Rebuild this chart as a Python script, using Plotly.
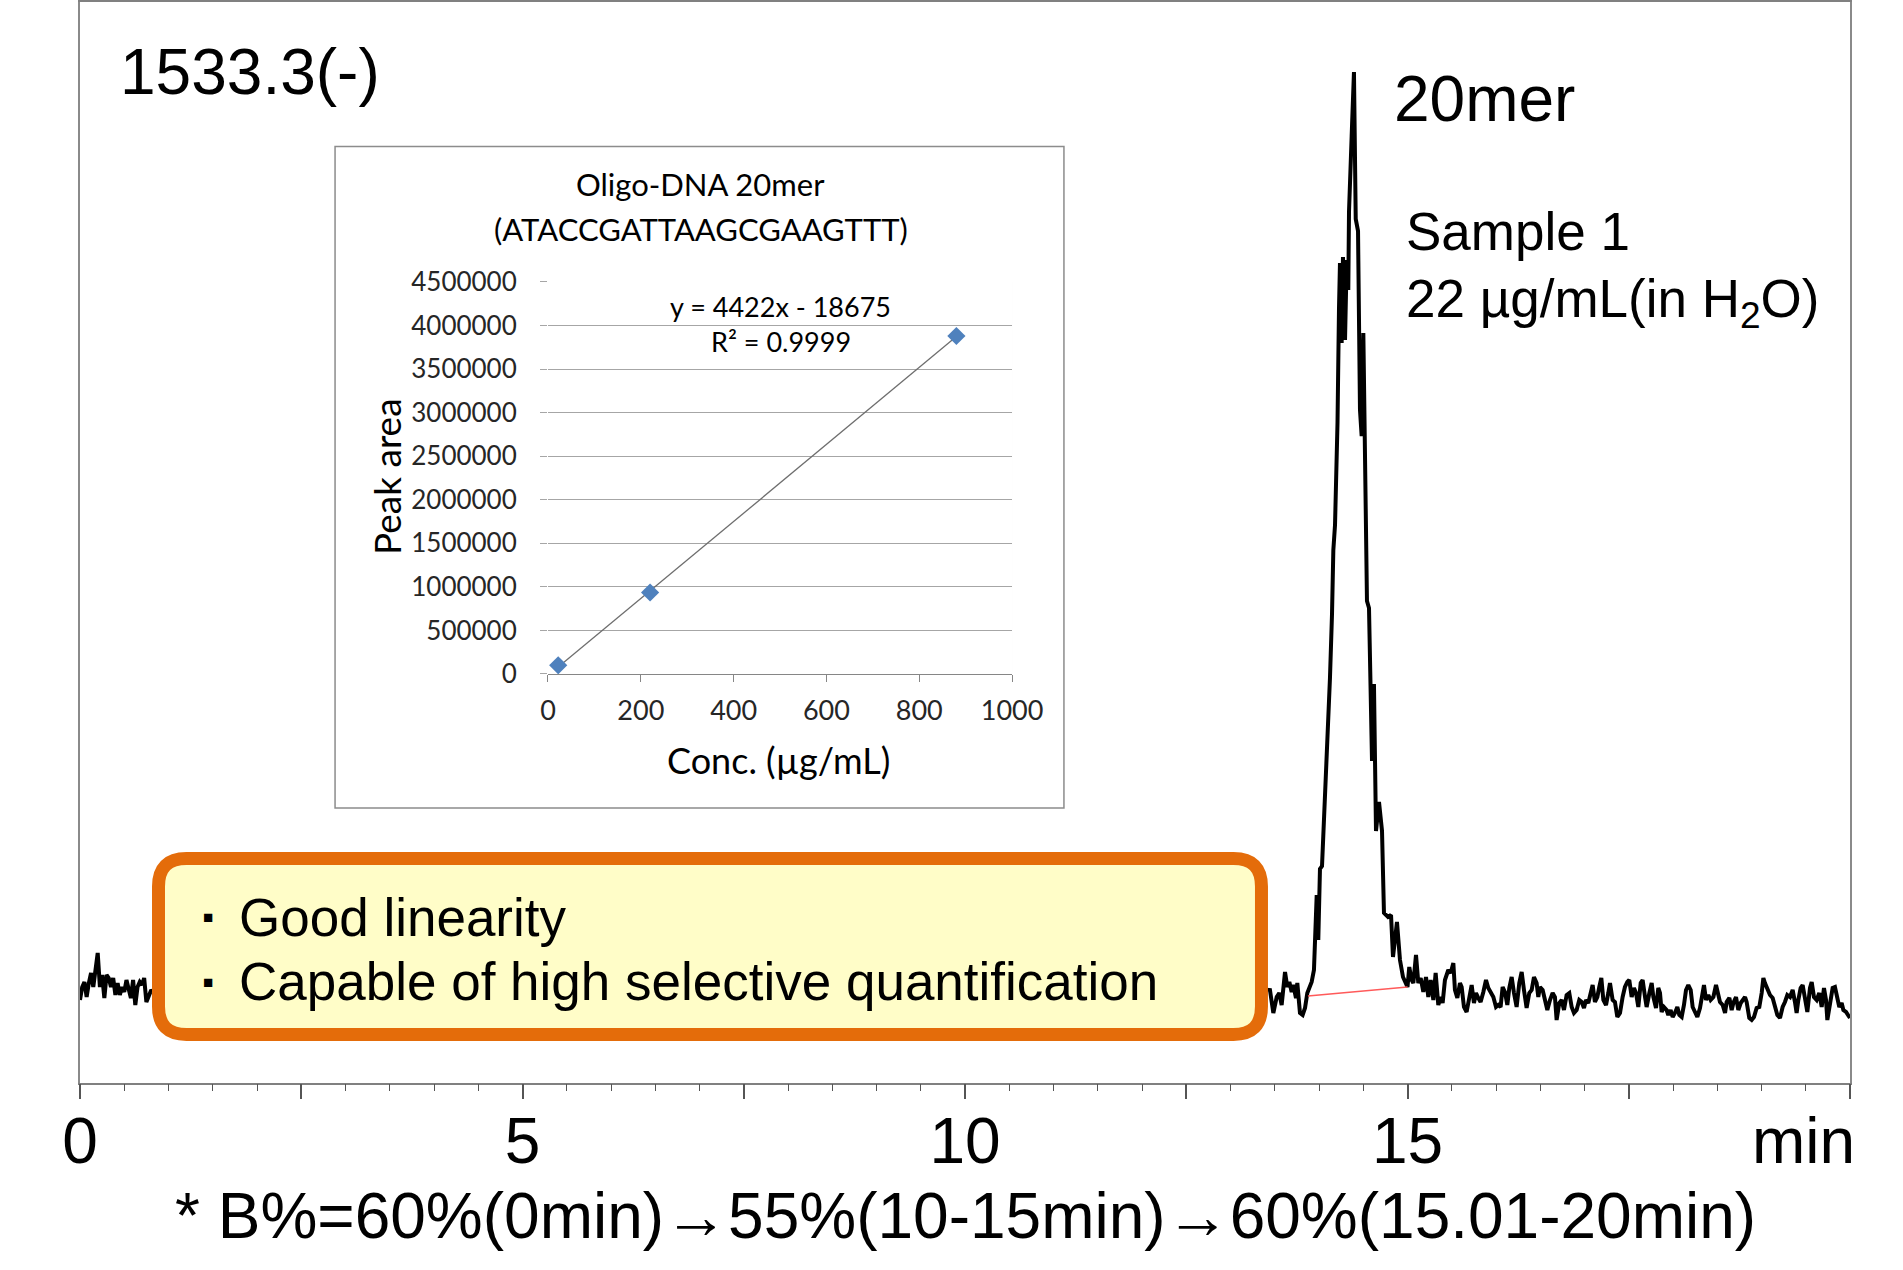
import plotly.graph_objects as go

# ---------------- main chromatogram data (time in min, intensity in arbitrary units) ----------------
start_t = [round(0.025 * i, 3) for i in range(33)]
start_v = [83, 96, 101, 86, 100, 110, 96, 113, 130, 96, 108, 85, 108, 105, 96, 105, 88, 100, 88, 96,
           91, 103, 95, 85, 103, 78, 96, 101, 98, 105, 81, 86, 92]

hidden_t = [round(1.0 + 0.2 * i, 2) for i in range(62)]
hidden_v = [95, 88, 102, 91, 84, 99, 93, 106, 87, 95, 90, 101, 85, 97, 92, 104, 88, 94, 99, 86,
            93, 100, 89, 96, 91, 103, 87, 95, 98, 84, 92, 101, 90, 96, 88, 99, 93, 85, 97, 102,
            89, 94, 91, 100, 86, 95, 98, 90, 104, 87, 93, 96, 89, 101, 92, 86, 97, 94, 90, 99,
            88, 95]

peak_t = [13.446, 13.484, 13.522, 13.551, 13.578, 13.616, 13.642, 13.665, 13.691, 13.710,
          13.740, 13.755, 13.785, 13.815, 13.842, 13.868, 13.898, 13.917, 13.943, 13.955,
          13.974, 13.992, 14.011, 14.034, 14.068, 14.090, 14.124, 14.147, 14.162, 14.181,
          14.209, 14.226, 14.237, 14.256, 14.271, 14.294, 14.313, 14.331, 14.339, 14.369,
          14.395, 14.415, 14.441, 14.463, 14.482, 14.501, 14.520, 14.542, 14.565, 14.599,
          14.621, 14.644, 14.678, 14.712, 14.734, 14.780, 14.814, 14.836, 14.881, 14.915,
          14.949, 15.000]
peak_v = [93, 70, 86, 90, 78, 111, 96, 101, 91, 98, 85, 100, 70, 68, 75, 90, 96, 101, 113, 137,
          188, 143, 214, 217, 290, 322, 405, 469, 533, 558, 660, 775, 820, 740, 826, 743, 823, 793,
          871, 947, 1011, 864, 852, 673, 647, 750, 647, 482, 475, 322, 399, 252, 281, 252, 170,
          166, 168, 126, 161, 123, 106, 96]

tail_t = [15.020, 15.047, 15.066, 15.096, 15.122, 15.149, 15.179, 15.209, 15.235, 15.262,
          15.292, 15.318, 15.348, 15.375, 15.397, 15.423, 15.461, 15.488, 15.518, 15.536,
          15.563, 15.593, 15.612, 15.638, 15.668, 15.698, 15.725, 15.751, 15.774, 15.800,
          15.826, 15.857, 15.887, 15.913, 15.939, 15.970, 16.000, 16.026, 16.052, 16.075,
          16.101, 16.128, 16.150, 16.177, 16.203, 16.233, 16.263, 16.290, 16.316, 16.346,
          16.376, 16.403, 16.429, 16.459, 16.478, 16.497, 16.527, 16.553, 16.580, 16.610,
          16.640, 16.666, 16.685, 16.715, 16.742, 16.768, 16.798, 16.828, 16.855, 16.881,
          16.911, 16.941, 16.968, 16.994, 17.017, 17.043, 17.069, 17.092, 17.118, 17.145,
          17.167, 17.190, 17.213, 17.243, 17.269, 17.288, 17.318, 17.344, 17.371, 17.401,
          17.431, 17.457, 17.484,
          17.506, 17.533, 17.559, 17.582, 17.608, 17.635, 17.657, 17.684, 17.702, 17.733,
          17.759, 17.778, 17.808, 17.834, 17.853, 17.872, 17.898, 17.928, 17.947, 17.973,
          17.996, 18.022, 18.049, 18.071, 18.098, 18.124, 18.147, 18.173, 18.200, 18.222,
          18.249, 18.275, 18.305, 18.328, 18.350, 18.373, 18.399, 18.425, 18.456, 18.486,
          18.512, 18.531, 18.561, 18.588, 18.606, 18.637, 18.663, 18.682, 18.712, 18.738,
          18.765, 18.787, 18.814, 18.832, 18.862, 18.889, 18.915, 18.945, 18.975, 19.002,
          19.021, 19.039, 19.066, 19.096, 19.126, 19.153, 19.179, 19.209, 19.239, 19.265,
          19.292, 19.322, 19.352, 19.378, 19.397, 19.416, 19.442, 19.465, 19.491, 19.518,
          19.548, 19.567, 19.593, 19.623, 19.653, 19.680, 19.706, 19.729, 19.744, 19.774,
          19.804, 19.830, 19.857, 19.879, 19.906, 19.925, 19.955, 19.981, 20.000]
tail_v = [116, 103, 100, 128, 100, 105, 91, 106, 86, 103, 83, 110, 78, 86, 80, 103, 113, 110, 120, 93,
          85, 100, 96, 76, 71, 86, 98, 80, 90, 85, 81, 91, 103, 95, 90, 86, 76, 78, 76, 96,
          91, 78, 95, 106, 90, 76, 100, 111, 93, 75, 90, 93, 106, 100, 86, 96, 93, 83, 73, 83,
          90, 86, 63, 80, 83, 73, 88, 90, 76, 70, 73, 83, 81, 75, 83, 80, 90, 98, 81, 86,
          96, 105, 83, 78, 90, 100, 83, 81, 66, 70, 86, 96, 101,
          103, 86, 95, 90, 76, 100, 103, 86, 76, 90, 100, 86, 75, 95, 90, 71, 76, 73, 68, 73,
          66, 70, 76, 68, 66, 78, 93, 98, 93, 76, 70, 66, 75, 86, 98, 83, 88, 83, 86, 98,
          86, 81, 78, 70, 81, 85, 73, 80, 86, 73, 80, 83, 86, 81, 65, 63, 66, 75, 76, 90,
          105, 100, 93, 88, 85, 76, 68, 65, 76, 81, 88, 86, 93, 81, 70, 83, 95, 98, 83, 71,
          95, 101, 86, 83, 90, 76, 95, 83, 63, 80, 95, 96, 85, 76, 80, 73, 71, 68, 65]

# integration baseline (red)
base_t = [13.875, 15.0]
base_v = [87, 96]

# x-axis ticks
label_vals = [0, 5, 10, 15]
tick_vals = [0, 2.5, 5, 7.5, 10, 12.5, 15, 17.5, 20]

# ---------------- inset calibration data ----------------
conc = [22, 220, 880]
area = [100000, 935000, 3880000]
slope, intercept = 4422, -18675
fit_x = [conc[0], conc[-1]]
fit_y = [slope * c + intercept for c in fit_x]

# ---------------- figure ----------------
times = start_t + hidden_t + peak_t + tail_t
values = start_v + hidden_v + peak_v + tail_v

MAIN_FONT = "Liberation Sans, Arial, sans-serif"
INSET_FONT = "Lato, Open Sans, sans-serif"

fig = go.Figure()
fig.add_trace(go.Scatter(x=times, y=values, mode="lines",
                         line=dict(color="black", width=4), hoverinfo="skip"))
fig.add_trace(go.Scatter(x=base_t, y=base_v, mode="lines",
                         line=dict(color="#ff5a5a", width=1.5), hoverinfo="skip"))
fig.add_trace(go.Scatter(x=fit_x, y=fit_y, mode="lines", xaxis="x2", yaxis="y2",
                         line=dict(color="#6e6e6e", width=1.3), hoverinfo="skip"))
fig.add_trace(go.Scatter(x=conc, y=area, mode="markers", xaxis="x2", yaxis="y2",
                         marker=dict(symbol="diamond", size=14, color="#4F81BD",
                                     line=dict(width=0)), hoverinfo="skip"))

fig.update_layout(
    width=1903, height=1270,
    margin=dict(l=80, r=53, t=2, b=187, autoexpand=False),
    paper_bgcolor="white", plot_bgcolor="white",
    showlegend=False,
    xaxis=dict(domain=[0, 1], range=[0, 20], tickmode="array", tickvals=label_vals,
               ticks="", showline=True, linecolor="#808080", linewidth=2,
               mirror=True, showgrid=False, zeroline=False, automargin=False,
               tickfont=dict(family=MAIN_FONT, size=64, color="black"),
               ticklabelstandoff=1),
    xaxis3=dict(overlaying="x", anchor="y", side="bottom", range=[0, 20],
                tickmode="array", tickvals=tick_vals, showticklabels=False,
                ticks="outside", ticklen=15, tickwidth=1.5, tickcolor="#555555",
                showline=False, showgrid=False, zeroline=False, automargin=False,
                minor=dict(ticks="outside", ticklen=7, tickwidth=1.2, tickcolor="#555555",
                           tick0=0, dtick=0.5, showgrid=False)),
    yaxis=dict(domain=[0, 1], range=[0, 1081], showticklabels=False, ticks="",
               showline=True, linecolor="#8a8a8a", linewidth=1.5, mirror=True,
               showgrid=False, zeroline=False, automargin=False),
    xaxis2=dict(domain=[0.2644, 0.5266], anchor="y2", range=[0, 1000], dtick=200,
                ticks="outside", ticklen=7, tickcolor="#868686", showline=True,
                linecolor="#868686", linewidth=1, showgrid=False, zeroline=False,
                automargin=False,
                tickfont=dict(family=INSET_FONT, size=27, color="#262626"),
                ticklabelstandoff=6),
    yaxis2=dict(domain=[0.3784, 0.7410], anchor="x2", range=[0, 4500000], dtick=500000,
                tickformat="d", showgrid=True, gridcolor="#a6a6a6", gridwidth=1,
                ticks="outside", ticklen=7, tickcolor="#a6a6a6", showline=False,
                zeroline=False, automargin=False,
                tickfont=dict(family=INSET_FONT, size=26, color="#262626"),
                ticklabelstandoff=18),
)

# dummy trace so the tick-only overlay axis is drawn
fig.add_trace(go.Scatter(x=[0, 20], y=[None, None], xaxis="x3", yaxis="y",
                         mode="lines", hoverinfo="skip", showlegend=False))

# shapes: inset box, inset plot background, orange rounded call-out box
x0, x1, y0, y1 = 0.887, 13.350, 48.5, 224.5
rx, ry = 0.316, 28
box_path = (f"M {x0+rx},{y1} L {x1-rx},{y1} Q {x1},{y1} {x1},{y1-ry} "
            f"L {x1},{y0+ry} Q {x1},{y0} {x1-rx},{y0} L {x0+rx},{y0} "
            f"Q {x0},{y0} {x0},{y0+ry} L {x0},{y1-ry} Q {x0},{y1} {x0+rx},{y1} Z")
fig.update_layout(shapes=[
    dict(type="rect", xref="paper", yref="paper", x0=0.1441, x1=0.5559, y0=0.2544, y1=0.8663,
         fillcolor="white", line=dict(color="#8c8c8c", width=1.5), layer="below"),
    dict(type="rect", xref="x2 domain", yref="y2 domain", x0=0, x1=1, y0=0, y1=1,
         fillcolor="#f2f2f2", line=dict(width=0), layer="below"),
    dict(type="path", xref="x", yref="y", path=box_path, fillcolor="#FFFDC8",
         line=dict(color="#E46C0A", width=13), layer="above"),
])

PX = 1770.0   # plot width in px (paper units)
PY = 1081.0   # plot height in px

ann = []
def add(text, x, y, size, xanchor="left", xref="x", yref="y", font=MAIN_FONT, **kw):
    ann.append(dict(text=text, x=x, y=y, xref=xref, yref=yref, xanchor=xanchor,
                    yanchor="middle", showarrow=False,
                    font=dict(family=font, size=size, color="black"), **kw))

add("1533.3(-)", 0.43, 1011, 64)
add("20mer", 14.825, 984, 64)
add("Sample 1", 14.965, 852, 53)
add("22 µg/mL(in H<sub>2</sub>O)", 14.965, 781, 53)
add("■", 1.446, 166, 17, xanchor="center")
add("■", 1.446, 101, 17, xanchor="center")
add("Good linearity", 1.77, 166, 53)
add("Capable of high selective quantification", 1.77, 102, 53)
add("min", (1857 - 80) / PX, -58 / PY, 64, xanchor="right", xref="paper", yref="paper")
add("* B%=60%(0min)→55%(10-15min)→60%(15.01-20min)", 0.5, -133 / PY, 64,
    xanchor="center", xref="paper", yref="paper")

# inset texts
add("Oligo-DNA 20mer", 0.3506, 0.8312, 31, xanchor="center", xref="paper", yref="paper", font=INSET_FONT)
add("(ATACCGATTAAGCGAAGTTT)", 0.3506, 0.7903, 31, xanchor="center", xref="paper", yref="paper", font=INSET_FONT)
add("y = 4422x - 18675", 0.3959, 0.7182, 27, xanchor="center", xref="paper", yref="paper", font=INSET_FONT)
add("R² = 0.9999", 0.3959, 0.6855, 27, xanchor="center", xref="paper", yref="paper", font=INSET_FONT)
add("Conc. (µg/mL)", 0.3949, 0.2988, 36, xanchor="center", xref="paper", yref="paper", font=INSET_FONT)
add("Peak area", 0.1734, 0.5606, 37, xanchor="center", xref="paper", yref="paper", font=INSET_FONT,
    textangle=-90)

fig.update_layout(annotations=ann)

fig.write_html("out.html", config={"displayModeBar": False},
               post_script="document.body.style.margin='0';")
